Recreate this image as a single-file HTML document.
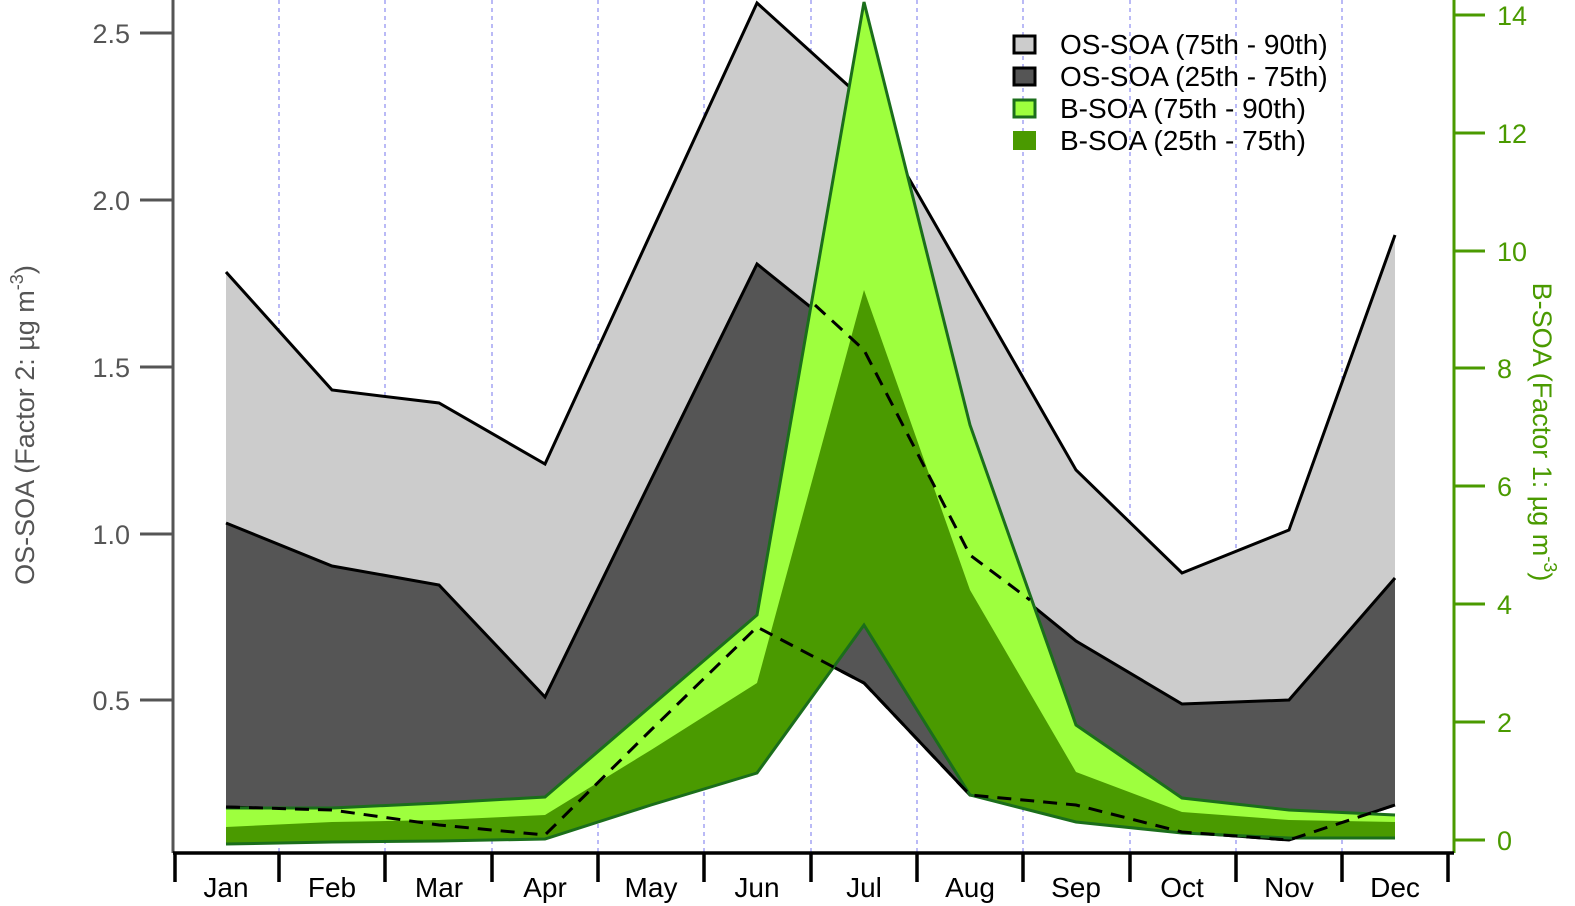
<!DOCTYPE html>
<html><head><meta charset="utf-8"><style>html,body{margin:0;padding:0;background:#fff}svg{display:block}</style></head>
<body>
<svg width="1575" height="906" xmlns="http://www.w3.org/2000/svg" font-family="Liberation Sans, Arial, sans-serif">
<g stroke="#8c8cf0" stroke-width="1.2" stroke-dasharray="4,4">
<line x1="279" y1="0" x2="279" y2="853"/><line x1="385" y1="0" x2="385" y2="853"/>
<line x1="492" y1="0" x2="492" y2="853"/><line x1="598" y1="0" x2="598" y2="853"/>
<line x1="704" y1="0" x2="704" y2="853"/><line x1="811" y1="0" x2="811" y2="853"/>
<line x1="917" y1="0" x2="917" y2="853"/><line x1="1023" y1="0" x2="1023" y2="853"/>
<line x1="1130" y1="0" x2="1130" y2="853"/><line x1="1236" y1="0" x2="1236" y2="853"/>
<line x1="1342" y1="0" x2="1342" y2="853"/>
</g>
<polygon fill="#cccccc" points="226,272 332,390 439,403 545,464 651,233 757,3 864,100 970,285 1076,470 1182,573 1289,530 1395,235 1395,578 1289,700 1182,704 1076,641 970,555 864,350 757,264 651,480 545,697 439,585 332,566 226,523"/>
<polygon fill="#555555" points="226,523 332,566 439,585 545,697 651,480 757,264 864,350 970,555 1076,641 1182,704 1289,700 1395,578 1395,805 1289,840 1182,832 1076,805 970,795 864,683 757,627 651,730 545,835 439,825 332,810 226,807"/>
<g fill="none" stroke="#000" stroke-width="3">
<polyline points="226,272 332,390 439,403 545,464 651,233 757,3 864,100 970,285 1076,470 1182,573 1289,530 1395,235"/>
<polyline points="226,523 332,566 439,585 545,697 651,480 757,264 864,350 970,555 1076,641 1182,704 1289,700 1395,578"/>
<polyline points="226,807 332,810 439,825 545,835 651,730 757,627 864,683 970,795 1076,805 1182,832 1289,840 1395,805"/>
</g>
<polygon fill="#9eff3e" points="226,808 332,808 439,803 545,797 651,706 757,615 864,2 970,425 1076,725 1182,798 1289,810 1395,815 1395,838 1289,838 1182,833 1076,822 970,795 864,625 757,773 651,805 545,839 439,841 332,842 226,844"/>
<polygon fill="#4a9a00" points="226,827 332,822 439,820 545,815 651,750 757,683 864,290 970,590 1076,772 1182,812 1289,820 1395,822 1395,838 1289,838 1182,833 1076,822 970,795 864,625 757,773 651,805 545,839 439,841 332,842 226,844"/>
<g fill="none" stroke="#1b6e1b" stroke-width="3">
<polyline points="226,808 332,808 439,803 545,797 651,706 757,615 864,2 970,425 1076,725 1182,798 1289,810 1395,815"/>
<polyline points="226,844 332,842 439,841 545,839 651,805 757,773 864,625 970,795 1076,822 1182,833 1289,838 1395,838"/>
</g>
<g fill="none" stroke="#000" stroke-width="3" stroke-dasharray="14,9">
<polyline points="226,807 332,810 439,825 545,835 651,730 757,627 864,683 970,795 1076,805 1182,832 1289,840 1395,805"/>
<polyline points="815,305 864,350 970,555 1030,600"/>
</g>
<g stroke="#555" stroke-width="3">
<line x1="173" y1="0" x2="173" y2="853"/>
<line x1="140" y1="33" x2="173" y2="33"/><line x1="140" y1="200" x2="173" y2="200"/>
<line x1="140" y1="367" x2="173" y2="367"/><line x1="140" y1="534" x2="173" y2="534"/>
<line x1="140" y1="700" x2="173" y2="700"/>
</g>
<g fill="#555" font-size="27" text-anchor="end">
<text x="130" y="43">2.5</text><text x="130" y="210">2.0</text><text x="130" y="377">1.5</text>
<text x="130" y="544">1.0</text><text x="130" y="710">0.5</text>
</g>
<text transform="translate(34,425) rotate(-90)" fill="#555" font-size="27" text-anchor="middle">OS-SOA (Factor 2: µg m<tspan dy="-11" font-size="18">-3</tspan><tspan dy="11">)</tspan></text>
<g stroke="#4a9a00" stroke-width="3">
<line x1="1454" y1="0" x2="1454" y2="853"/>
<line x1="1454" y1="15" x2="1485" y2="15"/><line x1="1454" y1="133" x2="1485" y2="133"/>
<line x1="1454" y1="251" x2="1485" y2="251"/><line x1="1454" y1="368" x2="1485" y2="368"/>
<line x1="1454" y1="486" x2="1485" y2="486"/><line x1="1454" y1="604" x2="1485" y2="604"/>
<line x1="1454" y1="722" x2="1485" y2="722"/><line x1="1454" y1="840" x2="1485" y2="840"/>
</g>
<g fill="#4a9a00" font-size="27">
<text x="1497" y="25">14</text><text x="1497" y="143">12</text><text x="1497" y="261">10</text>
<text x="1497" y="378">8</text><text x="1497" y="496">6</text><text x="1497" y="614">4</text>
<text x="1497" y="732">2</text><text x="1497" y="850">0</text>
</g>
<text transform="translate(1533,432) rotate(90)" fill="#4a9a00" font-size="27" text-anchor="middle">B-SOA (Factor 1: µg m<tspan dy="-11" font-size="18">-3</tspan><tspan dy="11">)</tspan></text>
<g stroke="#000" stroke-width="3.5">
<line x1="173" y1="853" x2="1454" y2="853"/>
<line x1="175" y1="853" x2="175" y2="882"/><line x1="279" y1="853" x2="279" y2="882"/>
<line x1="385" y1="853" x2="385" y2="882"/><line x1="492" y1="853" x2="492" y2="882"/>
<line x1="598" y1="853" x2="598" y2="882"/><line x1="704" y1="853" x2="704" y2="882"/>
<line x1="811" y1="853" x2="811" y2="882"/><line x1="917" y1="853" x2="917" y2="882"/>
<line x1="1023" y1="853" x2="1023" y2="882"/><line x1="1130" y1="853" x2="1130" y2="882"/>
<line x1="1236" y1="853" x2="1236" y2="882"/><line x1="1342" y1="853" x2="1342" y2="882"/>
<line x1="1448" y1="853" x2="1448" y2="882"/>
</g>
<g fill="#000" font-size="28" text-anchor="middle">
<text x="226" y="897">Jan</text><text x="332" y="897">Feb</text><text x="439" y="897">Mar</text>
<text x="545" y="897">Apr</text><text x="651" y="897">May</text><text x="757" y="897">Jun</text>
<text x="864" y="897">Jul</text><text x="970" y="897">Aug</text><text x="1076" y="897">Sep</text>
<text x="1182" y="897">Oct</text><text x="1289" y="897">Nov</text><text x="1395" y="897">Dec</text>
</g>
<rect x="1014" y="36" width="21" height="17" fill="#cccccc" stroke="#000" stroke-width="3"/>
<rect x="1014" y="68" width="21" height="17" fill="#555555" stroke="#000" stroke-width="3"/>
<rect x="1014" y="100" width="21" height="17" fill="#9eff3e" stroke="#1b6e1b" stroke-width="3"/>
<rect x="1013" y="131" width="23" height="19" fill="#4a9a00"/>
<g fill="#000" font-size="28">
<text x="1060" y="54">OS-SOA (75th - 90th)</text>
<text x="1060" y="86">OS-SOA (25th - 75th)</text>
<text x="1060" y="118">B-SOA (75th - 90th)</text>
<text x="1060" y="150">B-SOA (25th - 75th)</text>
</g>
</svg>
</body></html>
